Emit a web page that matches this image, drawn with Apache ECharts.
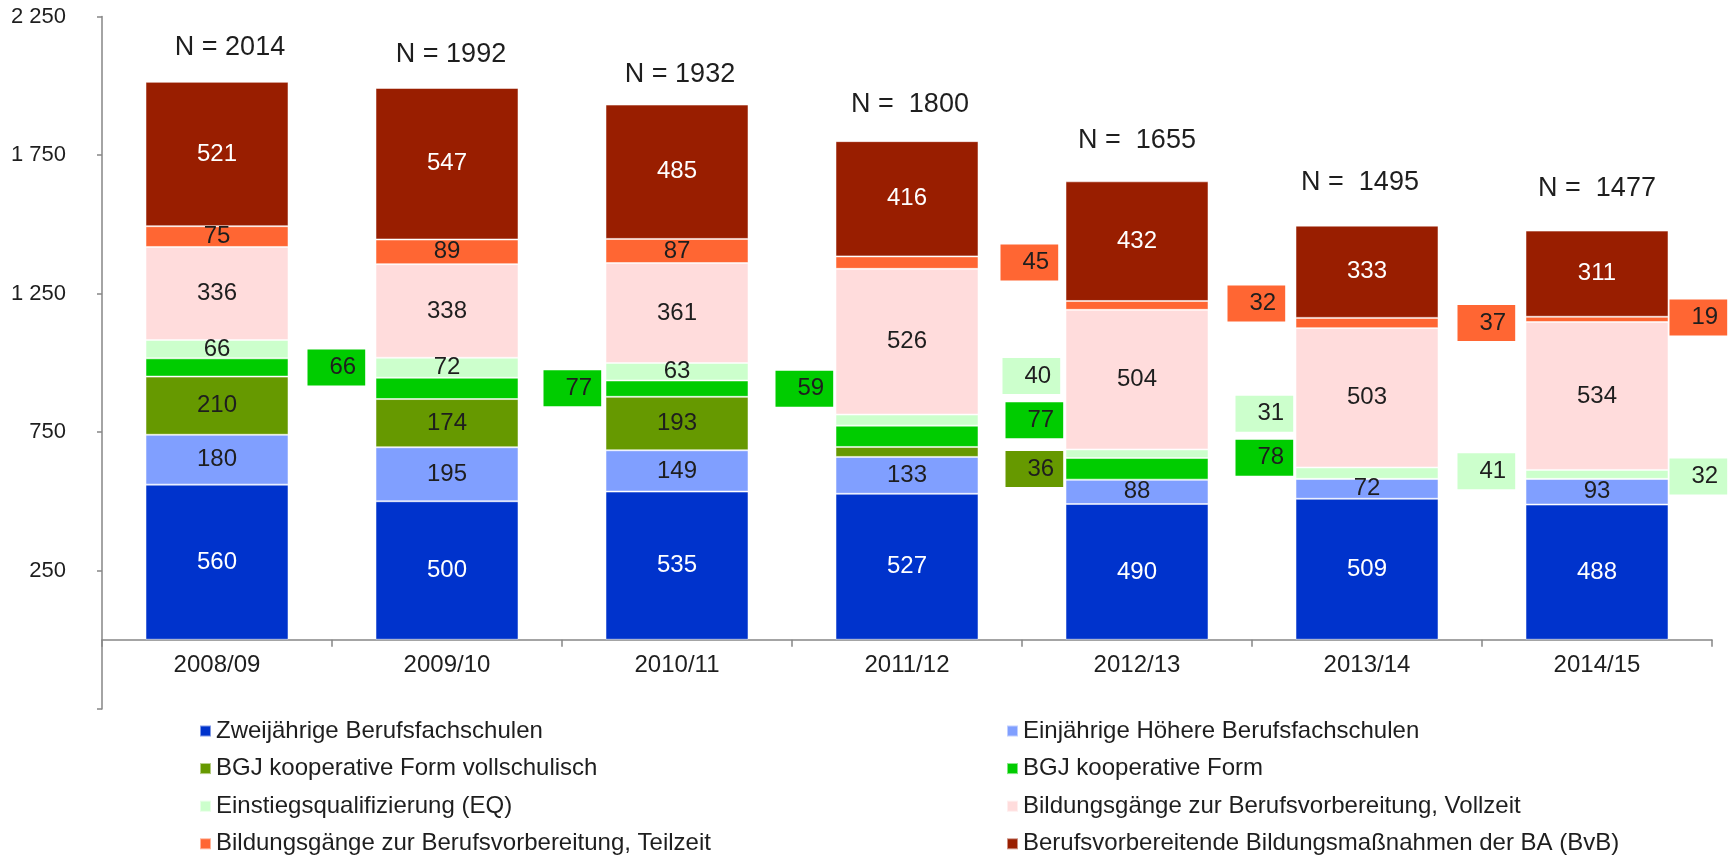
<!DOCTYPE html>
<html>
<head>
<meta charset="utf-8">
<title>Übergangssystem</title>
<script src="https://cdn.jsdelivr.net/npm/echarts@6/dist/echarts.min.js"></script>
<style>
  html, body { margin: 0; padding: 0; background: #fff; }
  #main { width: 1730px; height: 858px; }
</style>
</head>
<body>
<div id="main"></div>
<script>
// data
const categories = ['2008/09', '2009/10', '2010/11', '2011/12', '2012/13', '2013/14', '2014/15'];
const seriesNames = [
  'Zweijährige Berufsfachschulen',
  'Einjährige Höhere Berufsfachschulen',
  'BGJ kooperative Form vollschulisch',
  'BGJ kooperative Form',
  'Einstiegsqualifizierung (EQ)',
  'Bildungsgänge zur Berufsvorbereitung, Vollzeit',
  'Bildungsgänge zur Berufsvorbereitung, Teilzeit',
  'Berufsvorbereitende Bildungsmaßnahmen der BA (BvB)'
];
const zweijaehrige = [560, 500, 535, 527, 490, 509, 488];
const einjaehrige = [180, 195, 149, 133, 88, 72, 93];
const bgjVollschulisch = [210, 174, 193, 36, 0, 0, 0];
const bgjKooperativ = [66, 77, 59, 77, 78, 0, 0];
const eq = [66, 72, 63, 40, 31, 41, 32];
const bvVollzeit = [336, 338, 361, 526, 504, 503, 534];
const bvTeilzeit = [75, 89, 87, 45, 32, 37, 19];
const bvb = [521, 547, 485, 416, 432, 333, 311];
const nSeparators = ['= ', '= ', '= ', '=  ', '=  ', '=  ', '=  '];

const allValues = [zweijaehrige, einjaehrige, bgjVollschulisch, bgjKooperativ, eq, bvVollzeit, bvTeilzeit, bvb];
const totals = categories.map((c, i) => allValues.reduce((s, arr) => s + arr[i], 0));

// styling
const FONT = "'Liberation Sans', Arial, sans-serif";
const TEXT = '#1e1e1e';
const colors = ['#0033CC', '#809FFF', '#669900', '#00CC00', '#CCFFCC', '#FFDCDC', '#FF6633', '#991E00'];
const labelColors = ['#fff', TEXT, TEXT, TEXT, TEXT, TEXT, TEXT, '#fff'];
// boxed labels beside the bar: [series, category, gap to bar, vertical shift]
const boxedLabels = [
  [3, 0, 19, 0], [3, 1, 25, 0], [3, 2, 27, 0],
  [6, 3, 22, 0], [4, 3, 24, -44], [3, 3, 27, -16], [2, 3, 27, 17],
  [6, 4, 19, -2], [4, 4, 27, -40], [3, 4, 27, -11],
  [6, 5, 19, 0], [4, 5, 19, -2],
  [6, 6, 1, -2], [4, 6, 1, 2]
];
// N labels: gap above bar, horizontal shift
const totalLabelGap = [21, 20, 17, 23, 27, 30, 29];
const totalLabelShift = [13, 4, 3, 3, 0, -7, 0];

function buildData(si) {
  return allValues[si].map((v, ci) => {
    const box = boxedLabels.find(b => b[0] === si && b[1] === ci);
    if (v === 0) return { value: v, label: { show: false } };
    if (!box) return v;
    return {
      value: v,
      label: {
        position: 'right',
        distance: box[2],
        offset: [0, box[3]],
        backgroundColor: colors[si],
        color: TEXT,
        padding: [6, 9, 6, 22],
        lineHeight: 24
      }
    };
  });
}

const series = seriesNames.map((name, si) => ({
  name: name,
  type: 'bar',
  stack: 'total',
  barWidth: 143,
  data: buildData(si),
  itemStyle: {
    color: colors[si],
    borderColor: 'rgba(255,255,255,0.5)',
    borderWidth: 1
  },
  label: {
    show: true,
    position: 'inside',
    color: labelColors[si],
    fontFamily: FONT,
    fontSize: 24
  }
}));

series.push({
  name: 'N',
  type: 'scatter',
  symbolSize: 1,
  itemStyle: { color: 'rgba(0,0,0,0)', opacity: 1 },
  data: totals.map((t, i) => ({
    value: t,
    label: { distance: totalLabelGap[i], offset: [totalLabelShift[i], 0] }
  })),
  label: {
    show: true,
    position: 'top',
    color: TEXT,
    fontFamily: FONT,
    fontSize: 27,
    lineHeight: 26,
    formatter: p => 'N ' + nSeparators[p.dataIndex] + totals[p.dataIndex]
  },
  z: 5
});

const legendBase = {
  orient: 'vertical',
  top: 719,
  padding: 0,
  icon: 'rect',
  itemWidth: 11,
  itemHeight: 11,
  itemGap: 13.6,
  itemTextGap: 5,
  textStyle: { fontFamily: FONT, fontSize: 24, color: TEXT, lineHeight: 24 }
};

const chart = echarts.init(document.getElementById('main'));
chart.setOption({
  animation: false,
  textStyle: { fontFamily: FONT },
  color: colors,
  grid: { left: 102, right: 18, top: 16.5, bottom: 149, containLabel: false },
  legend: [
    Object.assign({}, legendBase, { left: 199, data: [seriesNames[0], seriesNames[2], seriesNames[4], seriesNames[6]] }),
    Object.assign({}, legendBase, { left: 1006, data: [seriesNames[1], seriesNames[3], seriesNames[5], seriesNames[7]] })
  ],
  xAxis: {
    type: 'category',
    data: categories,
    offset: -69.25,
    axisLine: { onZero: false, lineStyle: { color: '#868686', width: 1.5 } },
    axisTick: { show: true, length: 7, lineStyle: { color: '#868686', width: 1.5 } },
    axisLabel: { color: TEXT, fontFamily: FONT, fontSize: 24, margin: 14 }
  },
  yAxis: {
    type: 'value',
    min: -250,
    max: 2250,
    interval: 500,
    splitLine: { show: false },
    axisLine: { show: true, lineStyle: { color: '#868686', width: 1.5 } },
    axisTick: { show: true, length: 5, lineStyle: { color: '#868686', width: 1.5 } },
    axisLabel: {
      color: TEXT,
      fontFamily: FONT,
      fontSize: 22,
      margin: 36,
      formatter: v => v < 0 ? '' : String(v).replace(/\B(?=(\d{3})+(?!\d))/g, ' ')
    }
  },
  series: series
});
</script>
</body>
</html>
